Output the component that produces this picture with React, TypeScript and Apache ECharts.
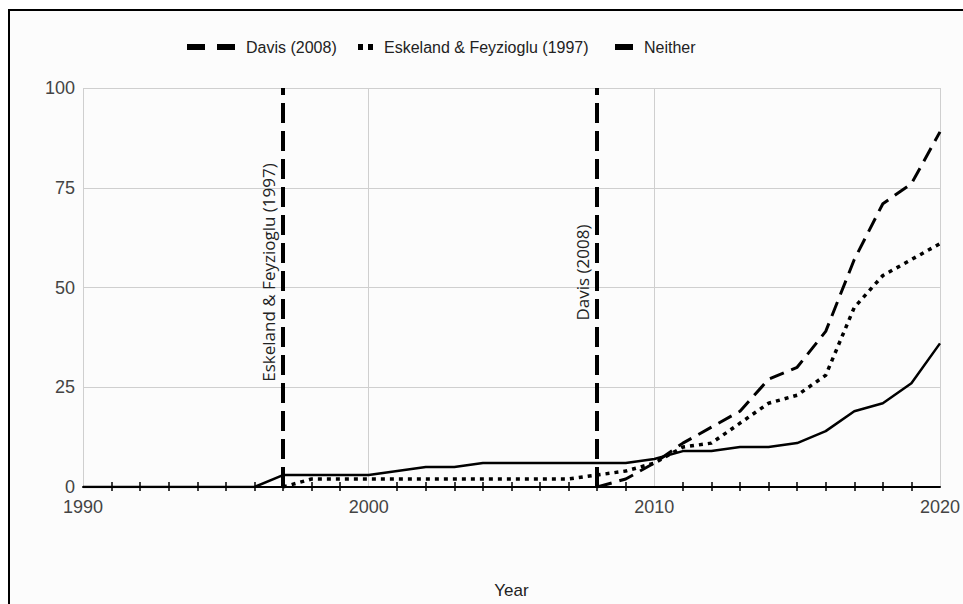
import React, { useEffect, useRef } from "react";
import * as echarts from "echarts";

const years = [1990, 1991, 1992, 1993, 1994, 1995, 1996, 1997, 1998, 1999, 2000, 2001, 2002, 2003, 2004, 2005, 2006, 2007, 2008, 2009, 2010, 2011, 2012, 2013, 2014, 2015, 2016, 2017, 2018, 2019, 2020];
const davis = [null, null, null, null, null, null, null, null, null, null, null, null, null, null, null, null, null, null, 0, 2, 6, 11, 15, 19, 27, 30, 39, 57, 71, 76, 89];
const eskeland = [null, null, null, null, null, null, null, 0, 2, 2, 2, 2, 2, 2, 2, 2, 2, 2, 3, 4, 6, 10, 11, 16, 21, 23, 28, 45, 53, 57, 61];
const neither = [0, 0, 0, 0, 0, 0, 0, 3, 3, 3, 3, 4, 5, 5, 6, 6, 6, 6, 6, 6, 7, 9, 9, 10, 10, 11, 14, 19, 21, 26, 36];
const seriesNames = ["Davis (2008)", "Eskeland & Feyzioglu (1997)", "Neither"];
const markerYears = [1997, 2008];
const markerLabels = ["Eskeland & Feyzioglu (1997)", "Davis (2008)"];
const xMin = 1990, xMax = 2020, xInterval = 10;
const yMin = 0, yMax = 100, yInterval = 25;

const FONT = "'Liberation Sans', Arial, sans-serif";

function pairs(vals: (number | null)[]) {
  return years.map((y, i) => [y, vals[i]]);
}

function marker(i: number) {
  return {
    silent: true,
    symbol: ["none", "none"],
    lineStyle: { color: "#000", width: 4, type: [20, 8], cap: "butt" },
    label: {
      show: true,
      position: "insideMiddleTop",
      formatter: markerLabels[i],
      color: "#222",
      fontFamily: "'Open Sans', sans-serif",
      fontSize: 17,
      distance: 6,
      padding: [0, 0, 0, 30],
    },
    emphasis: { disabled: true },
    data: [[{ coord: [markerYears[i], yMin] }, { coord: [markerYears[i], yMax] }]],
  };
}

export default function App() {
  const ref = useRef<HTMLDivElement>(null);
  useEffect(() => {
    const chart = echarts.init(ref.current!, null, { renderer: "svg" });
    const legendText = { color: "#222", fontSize: 16, fontFamily: FONT, padding: [0, 0, 0, 6] };
    const legendBase = {
      top: 39,
      padding: 0,
      itemHeight: 6,
      itemStyle: { color: "#000", borderWidth: 0 },
      lineStyle: { opacity: 0 },
      textStyle: legendText,
      selectedMode: false,
    };
    chart.setOption({
      animation: false,
      backgroundColor: "#ffffff",
      graphic: [
        {
          type: "rect",
          silent: true,
          z: -100,
          shape: { x: 9, y: 10, width: 1000, height: 700 },
          style: { fill: "#fcfcfc", stroke: "#000", lineWidth: 2 },
        },
      ],
      legend: [
        {
          ...legendBase,
          data: [{ name: seriesNames[0], icon: "path://M0,0h18v6h-18z M30,0h18v6h-18z" }],
          left: 187,
          itemWidth: 48,
        },
        {
          ...legendBase,
          data: [{ name: seriesNames[1], icon: "path://M0,0h5v6h-5z M10,0h5v6h-5z" }],
          left: 358,
          itemWidth: 15,
        },
        {
          ...legendBase,
          data: [{ name: seriesNames[2], icon: "path://M0,0h18v6h-18z" }],
          left: 615,
          itemWidth: 18,
        },
      ],
      grid: { left: 83, right: 22, top: 88, bottom: 116, containLabel: false },
      xAxis: [
        {
          type: "value",
          min: xMin, max: xMax, interval: xInterval,
          position: "bottom",
          name: "Year",
          nameLocation: "middle",
          nameGap: 95,
          nameTextStyle: { color: "#222", fontSize: 17, fontFamily: FONT },
          axisLine: { show: true, onZero: false, lineStyle: { color: "#000", width: 2 } },
          axisTick: { show: false },
          minorTick: { show: true, splitNumber: 10, length: 4, lineStyle: { color: "#000", width: 1.5 } },
          axisLabel: { color: "#444", fontSize: 18, fontFamily: FONT, margin: 11, formatter: (v: number) => String(v) },
          splitLine: { show: true, lineStyle: { color: "#cfcfcf", width: 1 } },
        },
        {
          type: "value",
          min: xMin, max: xMax, interval: xInterval,
          position: "bottom",
          axisLine: { show: false, onZero: false },
          axisTick: { show: false, inside: true },
          minorTick: { show: true, splitNumber: 10, length: 5, lineStyle: { color: "#000", width: 1.5 } },
          axisLabel: { show: false },
          splitLine: { show: false },
        },
      ],
      yAxis: {
        type: "value",
        min: yMin, max: yMax, interval: yInterval,
        axisLine: { show: false },
        axisTick: { show: false },
        axisLabel: { color: "#444", fontSize: 18, fontFamily: FONT, margin: 8 },
        splitLine: { show: true, lineStyle: { color: "#cfcfcf", width: 1 } },
      },
      series: [
        {
          name: seriesNames[0],
          type: "line",
          data: pairs(davis),
          symbol: "none",
          color: "#000",
          lineStyle: { color: "#000", width: 3, type: [15, 8], cap: "butt" },
          markLine: marker(1),
          z: 3,
        },
        {
          name: seriesNames[1],
          type: "line",
          data: pairs(eskeland),
          symbol: "none",
          color: "#000",
          lineStyle: { color: "#000", width: 3.5, type: [4, 5], cap: "butt" },
          markLine: marker(0),
          z: 3,
        },
        {
          name: seriesNames[2],
          type: "line",
          data: pairs(neither),
          symbol: "none",
          color: "#000",
          lineStyle: { color: "#000", width: 2.5, type: "solid" },
          z: 4,
        },
      ],
    });
    return () => chart.dispose();
  }, []);
  return (
    <div
      ref={ref}
      style={{ position: "absolute", left: 0, top: 0, width: 963, height: 604 }}
    />
  );
}
